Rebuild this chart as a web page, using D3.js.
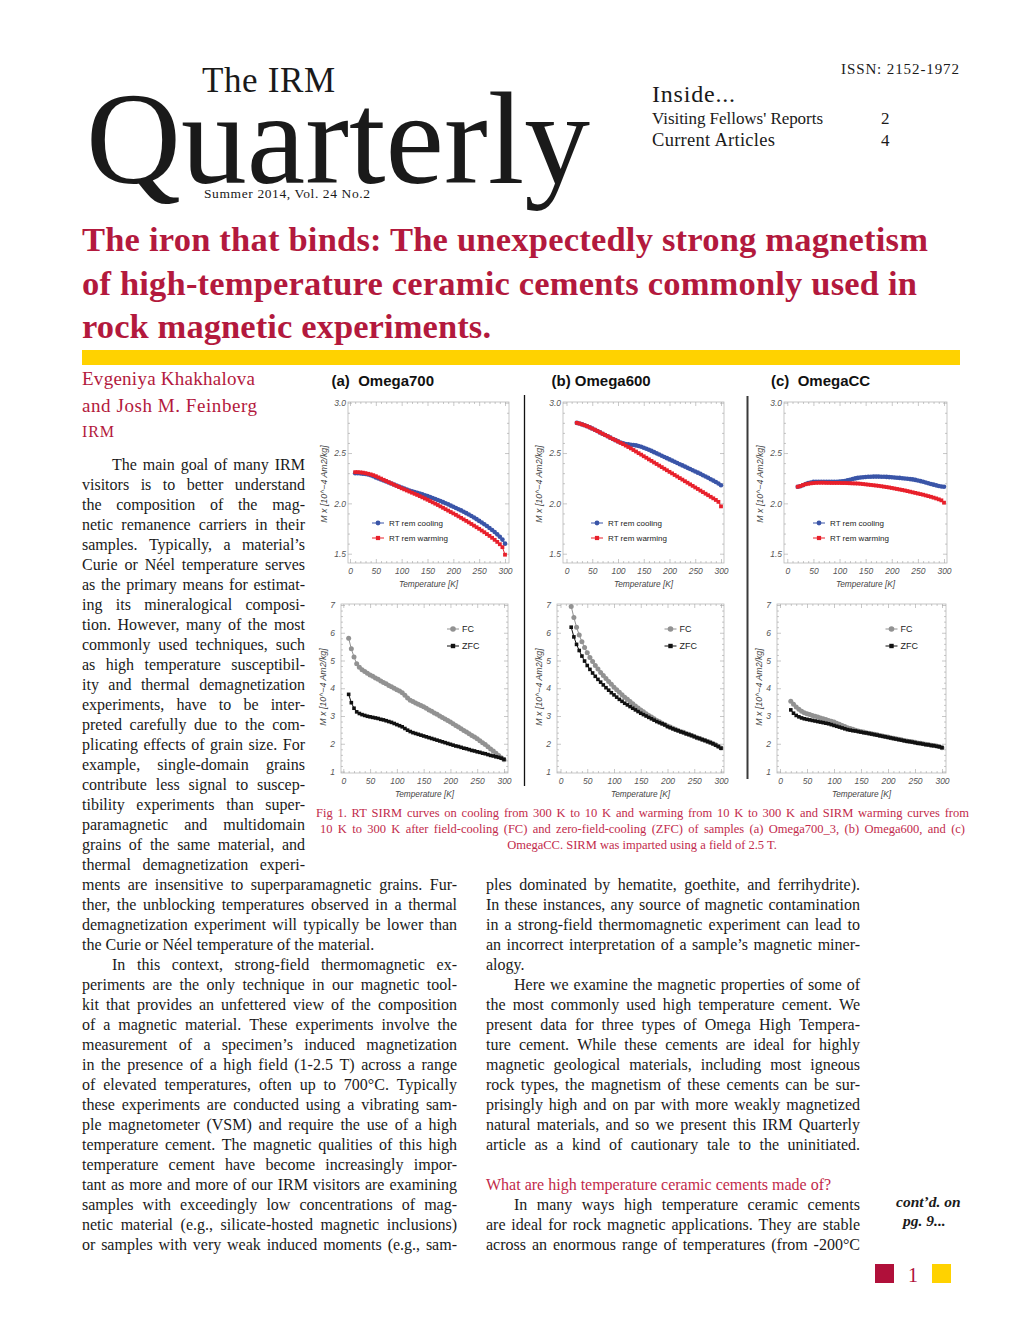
<!DOCTYPE html>
<html><head><meta charset="utf-8">
<script src="https://cdn.jsdelivr.net/npm/d3@7"></script>
<style>html,body{margin:0;padding:0;background:#fff;}svg{display:block;}</style>
</head><body>
<svg id="page" width="1020" height="1320"></svg>
<script>
// ---------------- DATA ----------------
const tempsA = [10,15,20,25,30,35,40,45,50,55,60,65,70,75,80,85,90,95,100,105,110,115,120,125,130,135,140,145,150,155,160,165,170,175,180,185,190,195,200,205,210,215,220,225,230,235,240,245,250,255,260,265,270,275,280,285,290,295,300];
const tempsBC = [20,25,30,35,40,45,50,55,60,65,70,75,80,85,90,95,100,105,110,115,120,125,130,135,140,145,150,155,160,165,170,175,180,185,190,195,200,205,210,215,220,225,230,235,240,245,250,255,260,265,270,275,280,285,290,295,300];

// RT remanence (10^-4 Am2/kg)
const coolA = [2.300,2.300,2.298,2.295,2.292,2.287,2.280,2.270,2.258,2.248,2.238,2.228,2.218,2.208,2.198,2.188,2.178,2.168,2.158,2.148,2.138,2.128,2.120,2.113,2.106,2.098,2.090,2.081,2.072,2.063,2.053,2.043,2.033,2.023,2.012,2.001,1.990,1.978,1.966,1.954,1.942,1.930,1.917,1.903,1.889,1.874,1.859,1.843,1.826,1.810,1.793,1.775,1.756,1.736,1.715,1.692,1.668,1.640,1.600];
const warmA = [2.310,2.310,2.308,2.305,2.300,2.294,2.288,2.280,2.270,2.258,2.246,2.234,2.222,2.210,2.198,2.186,2.174,2.162,2.150,2.139,2.128,2.117,2.106,2.095,2.084,2.072,2.060,2.048,2.036,2.023,2.010,1.997,1.984,1.970,1.956,1.942,1.928,1.914,1.900,1.886,1.871,1.856,1.841,1.826,1.811,1.795,1.779,1.763,1.747,1.730,1.713,1.695,1.677,1.658,1.638,1.617,1.594,1.565,1.490];
const coolB = [2.800,2.793,2.785,2.776,2.766,2.755,2.743,2.731,2.718,2.705,2.692,2.679,2.666,2.653,2.640,2.628,2.616,2.605,2.596,2.590,2.586,2.583,2.580,2.576,2.570,2.562,2.553,2.543,2.532,2.521,2.509,2.497,2.485,2.473,2.461,2.449,2.437,2.425,2.413,2.401,2.389,2.377,2.365,2.353,2.341,2.329,2.317,2.305,2.293,2.280,2.267,2.254,2.240,2.226,2.212,2.198,2.180];
const warmB = [2.800,2.793,2.785,2.776,2.766,2.755,2.743,2.731,2.718,2.705,2.692,2.679,2.666,2.653,2.640,2.627,2.614,2.601,2.588,2.574,2.560,2.546,2.530,2.515,2.499,2.484,2.468,2.453,2.437,2.422,2.406,2.391,2.375,2.360,2.344,2.329,2.313,2.298,2.282,2.267,2.251,2.236,2.220,2.205,2.189,2.174,2.158,2.143,2.127,2.112,2.096,2.081,2.065,2.050,2.034,2.015,1.970];
const coolC = [2.165,2.170,2.180,2.192,2.202,2.208,2.213,2.215,2.215,2.214,2.214,2.213,2.213,2.213,2.214,2.215,2.216,2.218,2.222,2.228,2.235,2.242,2.248,2.253,2.257,2.260,2.262,2.264,2.265,2.266,2.266,2.266,2.265,2.264,2.263,2.261,2.259,2.257,2.255,2.253,2.250,2.247,2.244,2.241,2.238,2.233,2.227,2.221,2.214,2.207,2.200,2.193,2.186,2.179,2.173,2.168,2.165];
const warmC = [2.165,2.172,2.182,2.190,2.195,2.199,2.202,2.204,2.205,2.205,2.205,2.204,2.204,2.203,2.203,2.203,2.203,2.202,2.202,2.201,2.200,2.199,2.198,2.197,2.195,2.192,2.189,2.186,2.183,2.180,2.177,2.174,2.170,2.166,2.162,2.158,2.153,2.148,2.143,2.138,2.133,2.128,2.122,2.116,2.110,2.104,2.098,2.092,2.086,2.079,2.072,2.065,2.057,2.049,2.040,2.030,2.007];

// SIRM warming after FC / ZFC (10^-4 Am2/kg)
const fcA  = [5.80,5.42,5.13,4.88,4.76,4.67,4.60,4.54,4.48,4.43,4.37,4.32,4.26,4.21,4.16,4.10,4.05,4.00,3.95,3.90,3.84,3.75,3.65,3.57,3.52,3.47,3.42,3.38,3.33,3.28,3.22,3.17,3.11,3.06,3.00,2.95,2.89,2.84,2.78,2.72,2.66,2.60,2.54,2.48,2.42,2.36,2.30,2.24,2.18,2.11,2.04,1.97,1.89,1.81,1.74,1.66,1.58,1.50,1.42];
const zfcA = [3.78,3.48,3.28,3.15,3.09,3.05,3.02,2.99,2.97,2.95,2.93,2.91,2.88,2.86,2.83,2.80,2.77,2.73,2.69,2.65,2.61,2.55,2.49,2.44,2.40,2.37,2.34,2.31,2.28,2.25,2.22,2.19,2.16,2.13,2.10,2.07,2.04,2.01,1.98,1.95,1.92,1.90,1.87,1.84,1.82,1.79,1.76,1.74,1.71,1.69,1.66,1.64,1.61,1.58,1.56,1.53,1.51,1.48,1.44];
const fcB  = [6.95,6.55,6.20,5.92,5.68,5.47,5.28,5.11,4.96,4.82,4.69,4.57,4.46,4.35,4.24,4.14,4.04,3.95,3.86,3.77,3.68,3.60,3.52,3.44,3.36,3.29,3.22,3.15,3.08,3.02,2.96,2.90,2.84,2.79,2.74,2.69,2.64,2.60,2.56,2.52,2.48,2.44,2.41,2.37,2.34,2.30,2.26,2.22,2.19,2.15,2.12,2.08,2.05,2.01,1.96,1.91,1.85];
const zfcB = [6.20,5.85,5.58,5.36,5.16,4.98,4.82,4.68,4.55,4.43,4.32,4.22,4.12,4.02,3.93,3.84,3.76,3.68,3.60,3.53,3.46,3.40,3.34,3.28,3.22,3.16,3.10,3.05,3.00,2.95,2.90,2.85,2.80,2.76,2.72,2.68,2.62,2.58,2.54,2.50,2.47,2.43,2.40,2.36,2.33,2.30,2.26,2.22,2.19,2.15,2.12,2.08,2.04,2.00,1.95,1.90,1.84];
const fcC  = [3.53,3.42,3.32,3.24,3.17,3.12,3.08,3.05,3.02,2.99,2.96,2.93,2.90,2.87,2.84,2.81,2.78,2.74,2.70,2.66,2.62,2.58,2.55,2.52,2.49,2.46,2.44,2.42,2.40,2.38,2.36,2.34,2.32,2.30,2.28,2.26,2.24,2.22,2.20,2.18,2.16,2.14,2.12,2.10,2.08,2.07,2.05,2.03,2.02,2.00,1.98,1.97,1.95,1.94,1.92,1.90,1.86];
const zfcC = [3.22,3.10,3.02,2.97,2.93,2.90,2.88,2.86,2.84,2.82,2.80,2.78,2.76,2.74,2.72,2.69,2.66,2.63,2.60,2.57,2.54,2.51,2.49,2.47,2.46,2.44,2.42,2.40,2.39,2.37,2.35,2.33,2.31,2.29,2.27,2.25,2.23,2.21,2.19,2.17,2.15,2.13,2.11,2.09,2.08,2.06,2.04,2.02,2.01,1.99,1.97,1.96,1.94,1.93,1.91,1.89,1.86];

const xTicks = [0,50,100,150,200,250,300];
const yTicksTop = [1.5,2.0,2.5,3.0];
const yTicksBottom = [1,2,3,4,5,6,7];
const panelTitles = ['(a)  Omega700','(b) Omega600','(c)  OmegaCC'];
const topLegend = ['RT rem cooling','RT rem warming'];
const bottomLegend = ['FC','ZFC'];
const yAxisTitle = 'M x [10^\u22124 Am2/kg]';
const xAxisTitle = 'Temperature [K]';

// ---------------- TEXT ----------------
const titleLines = ['The iron that binds: The unexpectedly strong magnetism','of high-temperature ceramic cements commonly used in','rock magnetic experiments.'];
const authorLines = ['Evgeniya Khakhalova','and Josh M. Feinberg','IRM'];
const para1Narrow = [
'The main goal of many IRM','visitors is to better understand','the composition of the mag-','netic remanence carriers in their',
'samples. Typically, a material\u2019s','Curie or N\u00e9el temperature serves','as the primary means for estimat-',
'ing its mineralogical composi-','tion. However, many of the most','commonly used techniques, such',
'as high temperature susceptibil-','ity and thermal demagnetization','experiments, have to be inter-',
'preted carefully due to the com-','plicating effects of grain size. For','example, single-domain grains',
'contribute less signal to suscep-','tibility experiments than super-','paramagnetic and multidomain',
'grains of the same material, and','thermal demagnetization experi-'];
const para1Wide = ['ments are insensitive to superparamagnetic grains. Fur-','ther, the unblocking temperatures observed in a thermal',
'demagnetization experiment will typically be lower than','the Curie or N\u00e9el temperature of the material.'];
const para2 = ['In this context, strong-field thermomagnetic ex-','periments are the only technique in our magnetic tool-',
'kit that provides an unfettered view of the composition','of a magnetic material. These experiments involve the',
'measurement of a specimen\u2019s induced magnetization','in the presence of a high field (1-2.5 T) across a range',
'of elevated temperatures, often up to 700\u00b0C. Typically','these experiments are conducted using a vibrating sam-',
'ple magnetometer (VSM) and require the use of a high','temperature cement. The magnetic qualities of this high',
'temperature cement have become increasingly impor-','tant as more and more of our IRM visitors are examining',
'samples with exceedingly low concentrations of mag-','netic material (e.g., silicate-hosted magnetic inclusions)',
'or samples with very weak induced moments (e.g., sam-'];
const rightPara1 = ['ples dominated by hematite, goethite, and ferrihydrite).','In these instances, any source of magnetic contamination',
'in a strong-field thermomagnetic experiment can lead to','an incorrect interpretation of a sample\u2019s magnetic miner-','alogy.'];
const rightPara2 = ['Here we examine the magnetic properties of some of','the most commonly used high temperature cement. We',
'present data for three types of Omega High Tempera-','ture cement. While these cements are ideal for highly',
'magnetic geological materials, including most igneous','rock types, the magnetism of these cements can be sur-',
'prisingly high and on par with more weakly magnetized','natural materials, and so we present this IRM Quarterly',
'article as a kind of cautionary tale to the uninitiated.'];
const heading = 'What are high temperature ceramic cements made of?';
const rightPara3 = ['In many ways high temperature ceramic cements','are ideal for rock magnetic applications. They are stable',
'across an enormous range of temperatures (from -200\u00b0C'];
const captionLines = ['Fig 1. RT SIRM curves on cooling from 300 K to 10 K and warming from 10 K to 300 K and SIRM warming curves from',
'10 K to 300 K after field-cooling (FC) and zero-field-cooling (ZFC) of samples (a) Omega700_3, (b) Omega600, and (c)',
'OmegaCC. SIRM was imparted using a field of 2.5 T.'];

// ---------------- DRAW ----------------
const svg = d3.select('#page');
const SERIF = "'Liberation Serif','Times New Roman',serif";
const SANS = "Arial,'Liberation Sans',sans-serif";
const CRIMSON = '#b3193d', CAPTION = '#c22a4b', YELLOW = '#ffd200', INK = '#1a1a1a';

function txt(parent, x, y, s, size, o = {}) {
  const t = parent.append('text').attr('x', x).attr('y', y)
    .attr('font-family', o.family || SERIF).attr('font-size', size)
    .attr('fill', o.fill || INK).text(s);
  if (o.weight) t.attr('font-weight', o.weight);
  if (o.style) t.attr('font-style', o.style);
  if (o.anchor) t.attr('text-anchor', o.anchor);
  if (o.len) t.attr('textLength', o.len).attr('lengthAdjust', o.adj || 'spacing');
  return t;
}

// justified line: one <text> with a tspan per word
function jline(parent, s, x0, x1, y, justify, size, fill) {
  const setF = t => t.attr('font-family', SERIF).attr('font-size', size).attr('fill', fill || INK);
  if (!justify) return parent.append('text').attr('x', x0).attr('y', y).call(setF).text(s);
  const words = s.split(' ');
  const tmp = parent.append('text').call(setF);
  const ws = words.map(w => { tmp.text(w); return tmp.node().getComputedTextLength(); });
  tmp.remove();
  let gap = words.length > 1 ? (x1 - x0 - d3.sum(ws)) / (words.length - 1) : 0;
  gap = Math.max(gap, 1.5);
  const t = parent.append('text').attr('y', y).call(setF);
  let x = x0;
  words.forEach((w, i) => { t.append('tspan').attr('x', x).text(w); x += ws[i] + gap; });
  return t;
}

// Masthead
txt(svg, 86, 183, 'Quarterly', 132, {len: 504, adj: 'spacingAndGlyphs'});
txt(svg, 202, 92, 'The IRM', 35, {len: 133});
txt(svg, 204, 197.5, 'Summer 2014, Vol. 24 No.2', 13.5, {len: 166});
txt(svg, 959, 73.5, 'ISSN: 2152-1972', 15, {anchor: 'end', len: 118});
txt(svg, 652, 102, 'Inside...', 24, {len: 83});
txt(svg, 652, 124, "Visiting Fellows' Reports", 17, {len: 171});
txt(svg, 881, 124, '2', 17);
txt(svg, 652, 146, 'Current Articles', 18.5, {len: 123});
txt(svg, 881, 146, '4', 17);

// Title
const titleW = [846, 835, 409];
titleLines.forEach((s, i) => txt(svg, 82, 251 + i * 43.7, s, 34.5, {weight: 'bold', fill: CRIMSON, len: titleW[i]}));
svg.append('rect').attr('x', 82).attr('y', 350).attr('width', 878).attr('height', 15).attr('fill', YELLOW);

// Authors
txt(svg, 82, 385, authorLines[0], 19, {fill: CRIMSON, len: 173});
txt(svg, 82, 412, authorLines[1], 19, {fill: CRIMSON, len: 175});
txt(svg, 82, 437, authorLines[2], 16, {fill: CRIMSON, len: 32});

// Body text
const body = svg.append('g');
const FS = 16, LH = 20;
let y = 470;
para1Narrow.forEach((s, i) => { jline(body, s, i === 0 ? 112 : 82, 305, y, true, FS); y += LH; });
para1Wide.forEach((s, i) => { jline(body, s, 82, 457, y, i < para1Wide.length - 1, FS); y += LH; });
para2.forEach((s, i) => { jline(body, s, i === 0 ? 112 : 82, 457, y, true, FS); y += LH; });
y = 890;
rightPara1.forEach((s, i) => { jline(body, s, 486, 860, y, i < rightPara1.length - 1, FS); y += LH; });
rightPara2.forEach((s, i) => { jline(body, s, i === 0 ? 514 : 486, 860, y, true, FS); y += LH; });
y += LH;
jline(body, heading, 486, 860, y, false, FS, CAPTION); y += LH;
rightPara3.forEach((s, i) => { jline(body, s, i === 0 ? 514 : 486, 860, y, true, FS); y += LH; });

txt(svg, 896, 1207, 'cont\u2019d. on', 15.5, {weight: 'bold', style: 'italic'});
txt(svg, 903, 1226, 'pg. 9...', 15.5, {weight: 'bold', style: 'italic'});

// Footer
svg.append('rect').attr('x', 875).attr('y', 1264).attr('width', 19).attr('height', 19).attr('fill', '#b0103a');
txt(svg, 913, 1282, '1', 20, {fill: '#b0103a', anchor: 'middle'});
svg.append('rect').attr('x', 932).attr('y', 1264).attr('width', 19).attr('height', 19).attr('fill', YELLOW);

// Caption
const capG = svg.append('g');
jline(capG, captionLines[0], 316, 969, 817, true, 12.5, CAPTION);
jline(capG, captionLines[1], 320, 965, 833, true, 12.5, CAPTION);
txt(capG, 642, 849, captionLines[2], 12.5, {fill: CAPTION, anchor: 'middle'});

// Separators between figure columns
svg.append('line').attr('x1', 524.5).attr('x2', 524.5).attr('y1', 395).attr('y2', 786).attr('stroke', '#111').attr('stroke-width', 1.3);
svg.append('line').attr('x1', 747.5).attr('x2', 747.5).attr('y1', 396).attr('y2', 779).attr('stroke', '#3a3a3a').attr('stroke-width', 2);

// ---------------- FIGURE PANELS ----------------
const BLUE = '#3a55a8', RED = '#e8202b', GRAY = '#929292', BLACK = '#111';
const topLayout = [
  {xr: [350, 505], fx: [348, 509], title: 331.5, legX: 378},
  {xr: [566.5, 721], fx: [563, 724], title: 551.5, legX: 597},
  {xr: [787.3, 944], fx: [784, 947], title: 771, legX: 819}
];
const botLayout = [
  {xr: [343.3, 504], fx: [341, 508], legX: 453},
  {xr: [560.5, 721], fx: [557, 724], legX: 670.5},
  {xr: [780, 942], fx: [777, 946], legX: 891.5}
];
const topSeries = [[tempsA, coolA, warmA], [tempsBC, coolB, warmB], [tempsBC, coolC, warmC]];
const botSeries = [[tempsA, fcA, zfcA], [tempsBC, fcB, zfcB], [tempsBC, fcC, zfcC]];

function marker(g, shape, cx, cy, size, color) {
  if (shape === 'circle') g.append('circle').attr('cx', cx).attr('cy', cy).attr('r', size).attr('fill', color);
  else g.append('rect').attr('x', cx - size / 2).attr('y', cy - size / 2).attr('width', size).attr('height', size).attr('fill', color);
}

function drawSeries(g, x, y, ts, vs, st) {
  const pts = ts.map((t, i) => [t, vs[i]]);
  g.append('path').datum(pts)
    .attr('d', d3.line().x(d => x(d[0])).y(d => y(d[1])))
    .attr('fill', 'none').attr('stroke', st.color).attr('stroke-width', 1);
  const mg = g.append('g');
  if (st.shape === 'circle') {
    mg.selectAll('circle').data(pts).join('circle')
      .attr('cx', d => x(d[0])).attr('cy', d => y(d[1])).attr('r', st.size).attr('fill', st.color);
  } else {
    mg.selectAll('rect').data(pts).join('rect')
      .attr('x', d => x(d[0]) - st.size / 2).attr('y', d => y(d[1]) - st.size / 2)
      .attr('width', st.size).attr('height', st.size).attr('fill', st.color);
  }
}

function panel(cfg) {
  const g = svg.append('g');
  const x = d3.scaleLinear().domain([0, 300]).range(cfg.xr);
  const y = d3.scaleLinear().domain(cfg.yd).range(cfg.yr);
  const [fx0, fx1] = cfg.fx, [fy0, fy1] = cfg.fy;
  g.append('rect').attr('x', fx0).attr('y', fy0).attr('width', fx1 - fx0).attr('height', fy1 - fy0)
    .attr('fill', 'none').attr('stroke', '#b8b8b8').attr('stroke-width', 0.8);
  const style = s => {
    s.select('.domain').remove();
    s.selectAll('.tick line').attr('stroke', '#a3a3a3').attr('stroke-width', 0.6);
    s.selectAll('.tick text').attr('font-family', SANS).attr('font-style', 'italic')
      .attr('font-size', 8.5).attr('fill', '#555');
  };
  const xMinor = d3.range(0, 301, 10).filter(v => v % 50 !== 0);
  const yMinor = d3.range(cfg.yd[0], cfg.yd[1] + 1e-9, cfg.minorStep)
    .filter(v => !cfg.yTicks.some(t => Math.abs(t - v) < 1e-6));
  g.append('g').attr('transform', `translate(0,${fy1})`)
    .call(d3.axisBottom(x).tickValues(xTicks).tickSize(-4).tickPadding(5).tickFormat(d3.format('d'))).call(style);
  g.append('g').attr('transform', `translate(0,${fy1})`)
    .call(d3.axisBottom(x).tickValues(xMinor).tickSize(-2).tickFormat('')).call(style);
  g.append('g').attr('transform', `translate(0,${fy0})`)
    .call(d3.axisTop(x).tickValues(xTicks).tickSize(-4).tickFormat('')).call(style);
  g.append('g').attr('transform', `translate(0,${fy0})`)
    .call(d3.axisTop(x).tickValues(xMinor).tickSize(-2).tickFormat('')).call(style);
  g.append('g').attr('transform', `translate(${fx0},0)`)
    .call(d3.axisLeft(y).tickValues(cfg.yTicks).tickSize(-4).tickPadding(cfg.yPad).tickFormat(cfg.yFmt)).call(style);
  g.append('g').attr('transform', `translate(${fx0},0)`)
    .call(d3.axisLeft(y).tickValues(yMinor).tickSize(-2).tickFormat('')).call(style);
  g.append('g').attr('transform', `translate(${fx1},0)`)
    .call(d3.axisRight(y).tickValues(cfg.yTicks).tickSize(-4).tickFormat('')).call(style);
  g.append('g').attr('transform', `translate(${fx1},0)`)
    .call(d3.axisRight(y).tickValues(yMinor).tickSize(-2).tickFormat('')).call(style);

  g.append('text').attr('x', (fx0 + fx1) / 2).attr('y', fy1 + 24)
    .attr('text-anchor', 'middle').attr('font-family', SANS).attr('font-style', 'italic')
    .attr('font-size', 8.3).attr('fill', '#444').text(xAxisTitle);
  g.append('text').attr('transform', `translate(${fx0 - cfg.yTitleOff},${cfg.yTitleY}) rotate(-90)`)
    .attr('text-anchor', 'middle').attr('dy', '0.35em').attr('font-family', SANS).attr('font-style', 'italic')
    .attr('font-size', 8.8).attr('fill', '#444').text(yAxisTitle);

  const [ts, v1, v2] = cfg.data;
  drawSeries(g, x, y, ts, v1, cfg.s1);
  drawSeries(g, x, y, ts, v2, cfg.s2);

  [cfg.s1, cfg.s2].forEach((st, i) => {
    const ly = cfg.legY[i];
    g.append('line').attr('x1', cfg.legX - 6).attr('x2', cfg.legX + 6).attr('y1', ly).attr('y2', ly)
      .attr('stroke', st.color).attr('stroke-width', 1);
    marker(g, st.shape, cfg.legX, ly, st.legSize, st.color);
    g.append('text').attr('x', cfg.legX + cfg.legTextOff).attr('y', ly).attr('dy', '0.35em')
      .attr('font-family', SANS).attr('font-size', cfg.legFont).attr('fill', '#222').text(cfg.labels[i]);
  });
  if (cfg.title) {
    g.append('text').attr('x', cfg.title).attr('y', 386).attr('font-family', SANS)
      .attr('font-weight', 'bold').attr('font-size', 15).attr('fill', '#111')
      .attr('xml:space', 'preserve').style('white-space', 'pre').text(cfg.titleText);
  }
}

topLayout.forEach((L, i) => panel({
  xr: L.xr, fx: L.fx, yd: [1.5, 3.0], yr: [553.7, 402.7], fy: [402, 563],
  yTicks: yTicksTop, minorStep: 0.1, yFmt: d3.format('.1f'), yPad: 2,
  yTitleOff: 24, yTitleY: 484,
  data: topSeries[i],
  s1: {color: BLUE, shape: 'circle', size: 2.3, legSize: 2.4},
  s2: {color: RED, shape: 'square', size: 3.8, legSize: 4.2},
  legX: L.legX, legY: [523, 538], legTextOff: 11, legFont: 8, labels: topLegend,
  title: L.title, titleText: panelTitles[i]
}));

botLayout.forEach((L, i) => panel({
  xr: L.xr, fx: L.fx, yd: [1, 7], yr: [771.5, 605], fy: [604, 773],
  yTicks: yTicksBottom, minorStep: 0.2, yFmt: d3.format('d'), yPad: 6,
  yTitleOff: 18.5, yTitleY: 687,
  data: botSeries[i],
  s1: {color: GRAY, shape: 'circle', size: 2.5, legSize: 2.8},
  s2: {color: BLACK, shape: 'square', size: 3.6, legSize: 4.4},
  legX: L.legX, legY: [629, 646], legTextOff: 9, legFont: 9, labels: bottomLegend
}));
</script>
</body></html>
